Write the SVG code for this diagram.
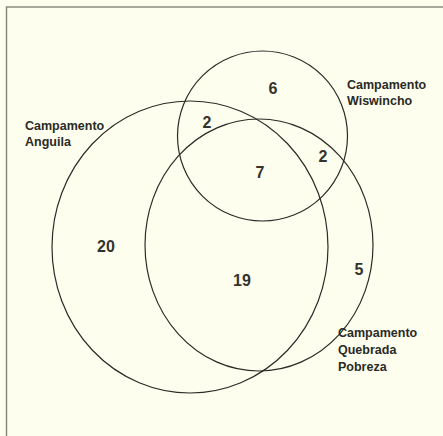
<svg xmlns="http://www.w3.org/2000/svg" width="443" height="436" viewBox="0 0 443 436">
<style>
.c{fill:none;stroke:#2b2b28;stroke-width:1.2}
.lbl{font-family:"Liberation Sans",Arial,sans-serif;font-size:12.5px;font-weight:bold;fill:#2a2a26}
.num{font-family:"Liberation Sans",Arial,sans-serif;font-size:16px;font-weight:bold;fill:#33332e;text-anchor:middle}
.frame{fill:none;stroke:#8a8a80;stroke-width:1.5}
</style>
<rect width="443" height="436" fill="#fefeee"/>
<path class="frame" d="M6.5,436 V7 H443"/>
<g id="connectors"></g>
<g id="anguila">
<ellipse class="c" cx="190" cy="247" rx="138" ry="146"/>
<text class="lbl" x="25" y="130">Campamento</text>
<text class="lbl" x="25" y="146">Anguila</text>
</g>
<g id="wiswincho">
<circle class="c" cx="262.5" cy="136" r="85"/>
<text class="lbl" x="347" y="89">Campamento</text>
<text class="lbl" x="347" y="105">Wiswincho</text>
</g>
<g id="quebrada">
<ellipse class="c" cx="259" cy="245" rx="114" ry="126"/>
<text class="lbl" x="338" y="337">Campamento</text>
<text class="lbl" x="338" y="354">Quebrada</text>
<text class="lbl" x="338" y="371">Pobreza</text>
</g>
<g id="counts">
<text class="num" x="273" y="94">6</text>
<text class="num" x="207" y="128">2</text>
<text class="num" x="323" y="162">2</text>
<text class="num" x="260" y="178">7</text>
<text class="num" x="106" y="252">20</text>
<text class="num" x="242" y="286">19</text>
<text class="num" x="359" y="275">5</text>
</g>
</svg>
